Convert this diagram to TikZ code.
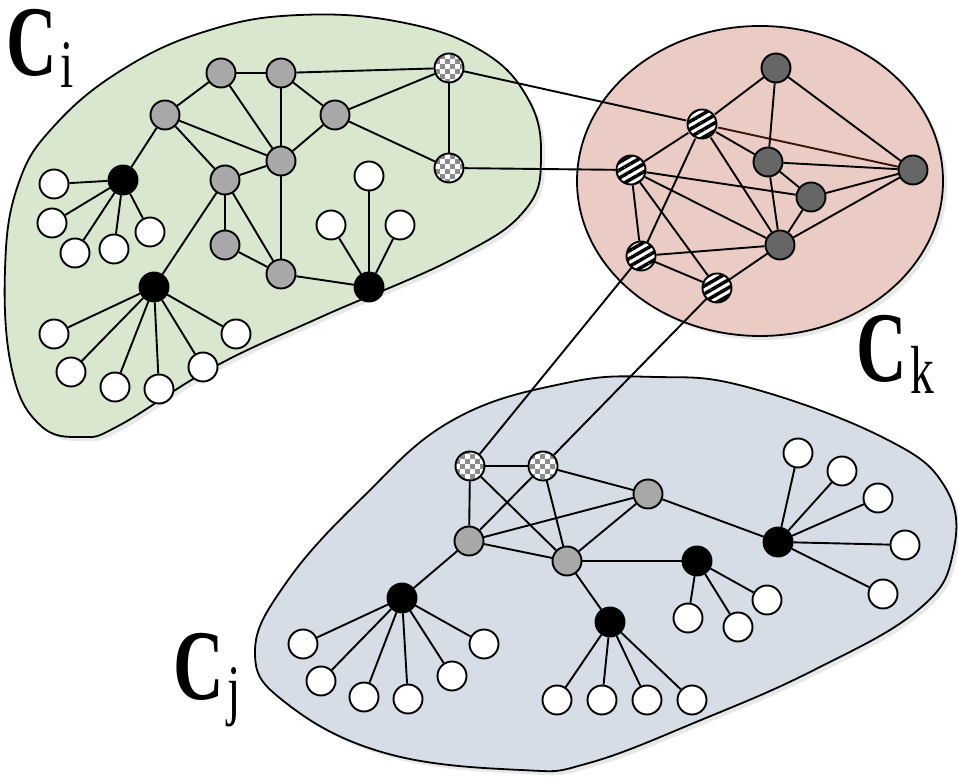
\documentclass[tikz,border=0pt]{standalone}
\usepackage{fontspec}
\usepackage{tikz}
\usetikzlibrary{shapes,patterns,patterns.meta,shadows}
\newfontfamily\labelfont{Liberation Serif}
\definecolor{greenblob}{RGB}{217,231,206}
\definecolor{redblob}{RGB}{235,204,196}
\definecolor{blueblob}{RGB}{214,221,231}
\definecolor{brownedge}{RGB}{60,20,12}
\tikzdeclarepattern{name=bigcheck,type=uncolored,
  bottom left={(-.1pt,-.1pt)},top right={(5.1pt,5.1pt)},tile size={(5pt,5pt)},
  code={\fill (0pt,0pt) rectangle (2.5pt,2.5pt); \fill (2.5pt,2.5pt) rectangle (5pt,5pt);}}
\newcommand{\clname}[1]{\scalebox{0.7}[1]{{\bfseries C}\hspace{2pt}\raisebox{-6pt}{\fontsize{34}{34}\selectfont #1}}}

\begin{document}
\begin{tikzpicture}
  [x=0.5pt,y=-0.5pt,line width=0.95pt,
   every node/.style={circle,draw,line width=0.95pt,minimum size=14.5pt,inner sep=0pt},
   leaf/.style={fill=white},
   mid/.style={fill=black!34},
   core/.style={fill=black!60},
   hub/.style={fill=black},
   chk/.style={preaction={fill=white},pattern=bigcheck,pattern color=black!45},
   stripe/.style={preaction={fill=white},pattern={Lines[angle=30,distance=3.4pt,line width=1.75pt]},pattern color=black},
   blob/.style={draw,line width=0.9pt,drop shadow={opacity=.18,shadow xshift=2pt,shadow yshift=-2pt}},
   lbl/.style={draw=none,rectangle,inner sep=0pt,anchor=base west,font=\labelfont\fontsize{50}{50}\selectfont}]
  \useasboundingbox (0,0) rectangle (958,779);

  % clusters
  \path[blob,fill=greenblob] plot[smooth cycle,tension=.7] coordinates {(5,270) (18,185) (55,125) (125,68) (210,30) (300,15) (400,22) (480,50) (527,97) (541,155) (525,210) (455,258) (321,317) (214,367) (120,425) (82,437) (40,425) (12,370)};
  \path[blob,fill=redblob] (760,181) ellipse [x radius=183,y radius=155];
  \path[blob,fill=blueblob] plot[smooth cycle,tension=.7] coordinates {(255,652) (286,583) (363,497) (453,420) (566,383) (656,377) (747,387) (882,437) (945,487) (953,553) (918,610) (814,670) (701,720) (589,763) (521,770) (385,753) (286,703)};

  \node[lbl] (ci) at (6,76) {\clname{i}};
  \node[lbl] (ck) at (856,382) {\clname{k}};
  \node[lbl] (cj) at (173,700) {\clname{j}};

  % C_i
  \node[mid] (g1) at (221,73)  {};
  \node[mid] (g2) at (281,73)  {};
  \node[mid] (g3) at (165,115) {};
  \node[mid] (g4) at (335,115) {};
  \node[mid] (g5) at (281,161) {};
  \node[mid] (g6) at (225,180) {};
  \node[mid] (g7) at (225,245) {};
  \node[mid] (g8) at (281,274) {};
  \node[chk] (q1) at (449,68)  {};
  \node[chk] (q2) at (449,168) {};
  \node[hub] (b1) at (123,180) {};
  \node[hub] (b2) at (154,287) {};
  \node[hub] (b3) at (369,287) {};

  % C_k
  \node[stripe] (s1) at (702,124) {};
  \node[stripe] (s2) at (631,170) {};
  \node[stripe] (s3) at (641,256) {};
  \node[stripe] (s4) at (717,288) {};
  \node[core] (d1) at (776,68)  {};
  \node[core] (d2) at (768,162) {};
  \node[core] (d3) at (811,197) {};
  \node[core] (d4) at (780,245) {};
  \node[core] (d5) at (913,170) {};

  % C_j
  \node[chk] (q3) at (470,466) {};
  \node[chk] (q4) at (543,466) {};
  \node[mid] (h1) at (648,494) {};
  \node[mid] (h2) at (469,541) {};
  \node[mid] (h3) at (567,561) {};
  \node[hub] (e1) at (402,598) {};
  \node[hub] (e2) at (610,622) {};
  \node[hub] (e3) at (697,561) {};
  \node[hub] (e4) at (778,542) {};

  % leaves
  \foreach \x/\y/\h [count=\i] in {54/184/b1,52/223/b1,75/253/b1,114/249/b1,150/232/b1,
      54/334/b2,71/372/b2,115/387/b2,159/389/b2,203/367/b2,236/334/b2,
      369/176/b3,331/225/b3,400/225/b3,
      303/644/e1,321/681/e1,364/697/e1,408/699/e1,452/676/e1,484/644/e1,
      557/700/e2,602/700/e2,647/700/e2,692/700/e2,
      688/618/e3,738/627/e3,767/600/e3,
      798/453/e4,842/471/e4,878/498/e4,905/545/e4,883/594/e4}
  {
    \node[leaf] (w\i) at (\x,\y) {};
    \draw (\h) -- (w\i);
  }

  \foreach \from/\to in {g1/g2,g2/q1,g1/g3,g1/g5,g2/g5,g2/g4,g3/g5,g3/g6,g3/b1,g4/g5,
      g4/q1,g4/q2,q1/q2,g5/g6,g5/g8,g6/g7,g6/g8,g6/b2,g7/g8,g8/b3}
    \draw (\from) -- (\to);

  \foreach \from/\to in {s1/d1,s1/s2,s1/d2,s1/d4,s1/s3,s2/s3,s2/s4,s2/d4,s2/d3,s3/d4,
      s3/s4,s4/d4,d1/d2,d1/d5,d2/d5,d2/d3,d2/d4,d3/d4,d3/d5,d4/d5}
    \draw (\from) -- (\to);
  \draw[brownedge] (s1) -- (d5);

  \foreach \from/\to in {q3/q4,q3/h2,q3/h3,q4/h2,q4/h3,q4/h1,h1/h2,h1/h3,h1/e4,h2/h3,
      h2/e1,h3/e3,h3/e2}
    \draw (\from) -- (\to);

  % between clusters
  \foreach \from/\to in {q1/s1,q2/s2,s3/q3,s4/q4}
    \draw (\from) -- (\to);
\end{tikzpicture}
\end{document}
